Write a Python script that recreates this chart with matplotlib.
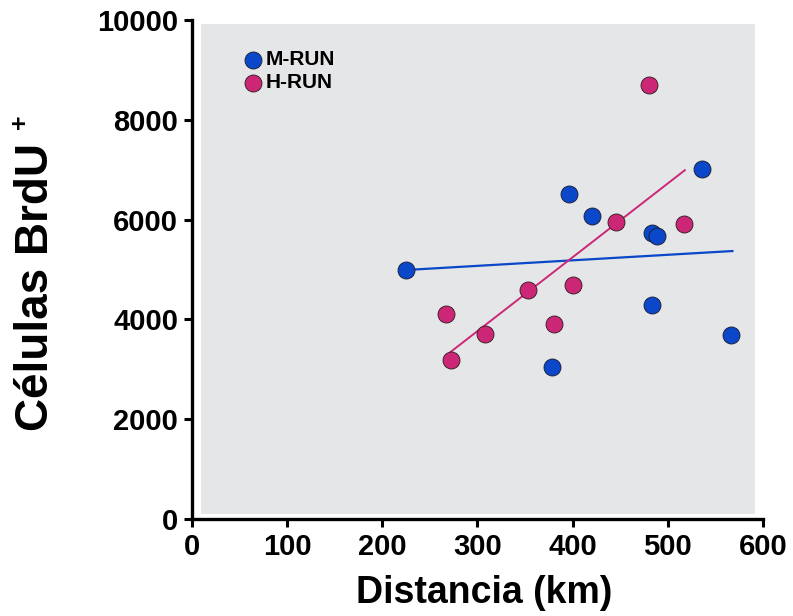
import matplotlib
matplotlib.use("Agg")
import matplotlib.pyplot as plt
from matplotlib.patches import Rectangle

# M-RUN and H-RUN measurements (distance in km, BrdU+ cells)
m_run_x = [225, 396, 420, 484, 489, 536, 484, 567, 378]
m_run_y = [4990, 6510, 6080, 5730, 5680, 7020, 4280, 3690, 3050]
h_run_x = [480, 446, 517, 353, 401, 267, 308, 381, 272]
h_run_y = [8690, 5950, 5920, 4590, 4680, 4100, 3700, 3900, 3180]

# regression lines as drawn (endpoints)
m_fit_x = [225, 568]
m_fit_y = [4990, 5370]
h_fit_x = [272, 518]
h_fit_y = [3350, 6990]

x_ticks = [0, 100, 200, 300, 400, 500, 600]
y_ticks = [0, 2000, 4000, 6000, 8000, 10000]

blue = "#0a47c9"
pink = "#cc2777"

plt.rcParams["font.family"] = ["Liberation Sans", "DejaVu Sans"]
plt.rcParams["font.weight"] = "bold"

fig = plt.figure(figsize=(7.93, 6.16), dpi=100)
ax = fig.add_axes([0.242, 0.1575, 0.72, 0.81])
ax.set_facecolor("white")

# gray panel slightly inset from the axes
ax.add_patch(Rectangle((0.016, 0.01), 0.97, 0.982, transform=ax.transAxes,
                       facecolor="#e5e6e8", edgecolor="none", zorder=0))

ax.plot(m_fit_x, m_fit_y, color=blue, lw=1.6, zorder=2)
ax.plot(h_fit_x, h_fit_y, color=pink, lw=1.4, zorder=2)
ax.scatter(m_run_x, m_run_y, s=150, color=blue, edgecolors="#1a1a2a",
           linewidths=0.6, zorder=3, label="M-RUN")
ax.scatter(h_run_x, h_run_y, s=150, color=pink, edgecolors="#2a1a1a",
           linewidths=0.6, zorder=3, label="H-RUN")

ax.set_xlim(0, 600)
ax.set_ylim(0, 10000)
ax.set_xticks(x_ticks)
ax.set_yticks(y_ticks)
ax.tick_params(axis="both", direction="out", length=6, width=2.2,
               labelsize=21, pad=4)
for lab in ax.get_xticklabels() + ax.get_yticklabels():
    lab.set_fontweight("bold")

for side in ("top", "right"):
    ax.spines[side].set_visible(False)
for side in ("left", "bottom"):
    ax.spines[side].set_linewidth(2.4)

fig.text(0.61, 0.037, "Distancia (km)", fontsize=27, fontweight="bold",
         ha="center", va="center")
fig.text(0.046, 0.534, "Células BrdU", fontsize=33, fontweight="bold",
         rotation=90, ha="center", va="center")
fig.text(0.025, 0.802, "+", fontsize=18, fontweight="bold", rotation=90,
         ha="center", va="center")

leg = ax.legend(loc="upper left", bbox_to_anchor=(0.07, 0.956), frameon=False,
                fontsize=15, handletextpad=0.0, labelspacing=0.2,
                borderaxespad=0, handlelength=1.2, markerscale=1.0)
for t in leg.get_texts():
    t.set_fontweight("bold")

fig.savefig("out.png", dpi=100)
